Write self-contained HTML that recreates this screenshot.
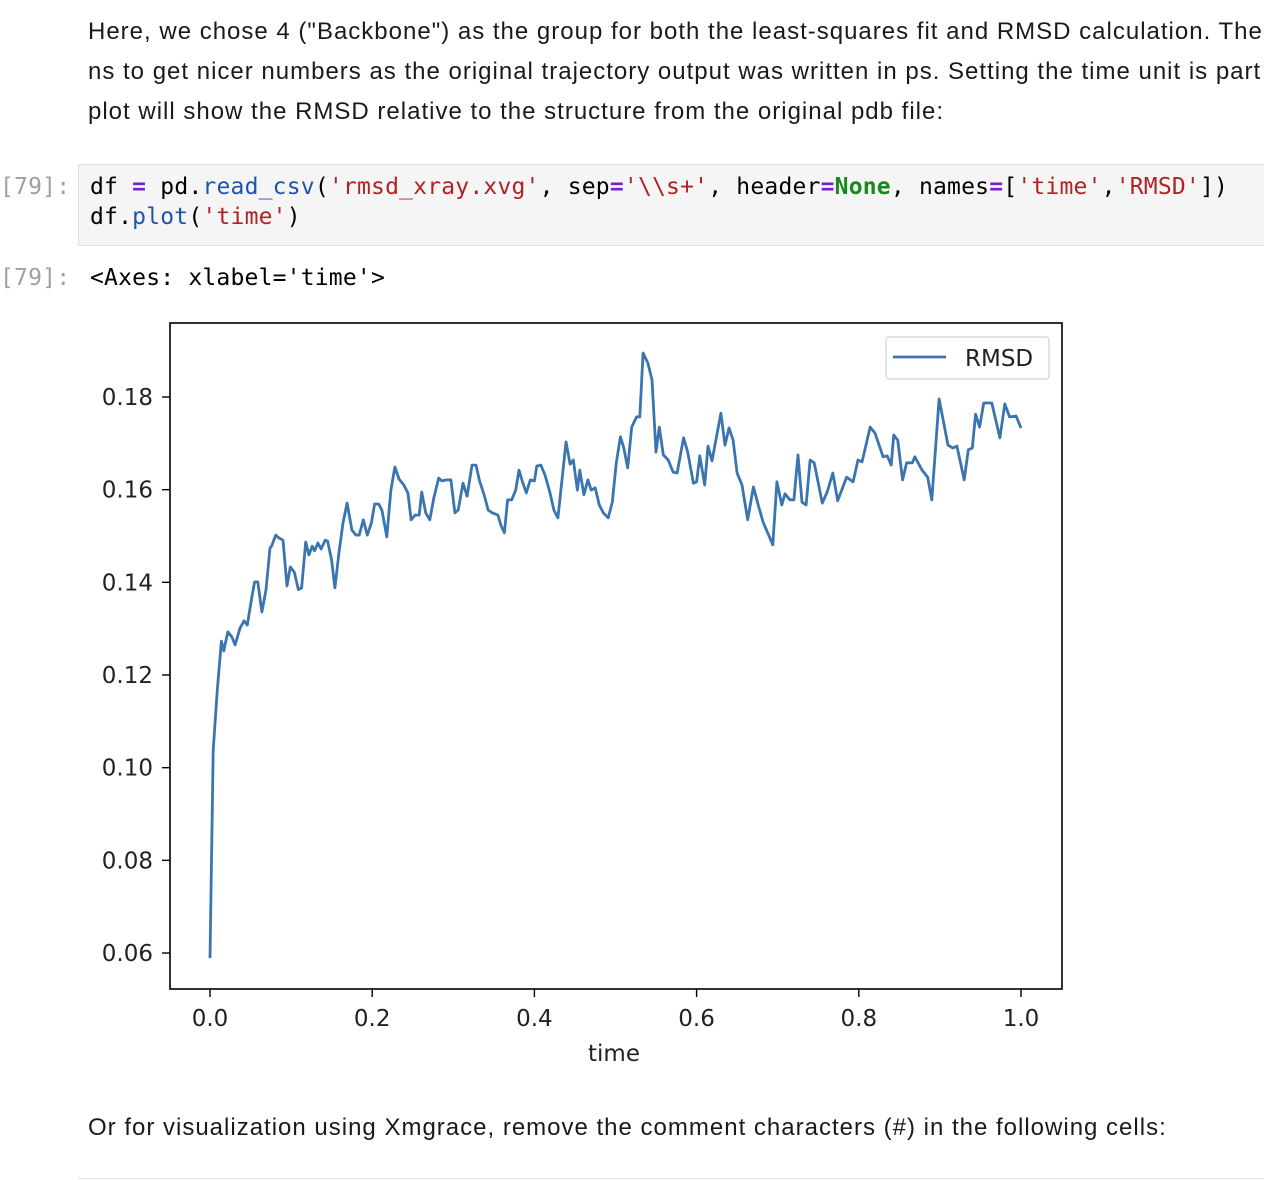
<!DOCTYPE html>
<html><head><meta charset="utf-8">
<style>
body{margin:0;width:1264px;height:1180px;overflow:hidden;background:#fff;position:relative;font-family:"Liberation Sans",sans-serif;}
.p{position:absolute;left:88px;font-size:24px;letter-spacing:1px;color:#1a1a1a;white-space:nowrap;}
.mono{font-family:"DejaVu Sans Mono","Liberation Mono",monospace;font-size:23px;white-space:pre;position:absolute;letter-spacing:0.2px;}
.pr{color:#a0a0a0;left:0;}
.kw{color:#7a22c4;font-weight:bold}.fn{color:#1f55a8}.st{color:#b22222}.nb{color:#198a19;font-weight:bold}
</style></head><body>
<div class="p" style="top:18px">Here, we chose 4 ("Backbone") as the group for both the least-squares fit and RMSD calculation. The</div>
<div class="p" style="top:58px">ns to get nicer numbers as the original trajectory output was written in ps. Setting the time unit is part</div>
<div class="p" style="top:98px">plot will show the RMSD relative to the structure from the original pdb file:</div>
<div style="position:absolute;left:78px;top:164px;width:1190px;height:80px;background:#f5f5f5;border:1px solid #e0e0e0;"></div>
<div class="mono pr" style="top:174px">[79]:</div>
<div class="mono" style="left:90px;top:174px">df <span class="kw">=</span> pd.<span class="fn">read_csv</span>(<span class="st">'rmsd_xray.xvg'</span>, sep<span class="kw">=</span><span class="st">'\\s+'</span>, header<span class="kw">=</span><span class="nb">None</span>, names<span class="kw">=</span>[<span class="st">'time'</span>,<span class="st">'RMSD'</span>])</div>
<div class="mono" style="left:90px;top:204px">df.<span class="fn">plot</span>(<span class="st">'time'</span>)</div>
<div class="mono pr" style="top:265px">[79]:</div>
<div class="mono" style="left:90px;top:265px">&lt;Axes: xlabel='time'&gt;</div>
<svg id="chart" width="1264" height="1180" style="position:absolute;left:0;top:0" font-family="DejaVu Sans, sans-serif"></svg>
<div class="p" style="top:1114px">Or for visualization using Xmgrace, remove the comment characters (#) in the following cells:</div>
<div style="position:absolute;left:78px;top:1178px;width:1190px;height:1px;background:#e0e0e0"></div>
<script>
const times=[0.000,0.004,0.009,0.014,0.017,0.022,0.027,0.031,0.037,0.042,0.046,0.051,0.055,0.059,0.064,0.069,0.074,0.076,0.081,0.085,0.090,0.095,0.099,0.104,0.109,0.113,0.118,0.122,0.126,0.129,0.133,0.137,0.142,0.145,0.150,0.154,0.159,0.164,0.169,0.175,0.180,0.184,0.189,0.194,0.199,0.203,0.208,0.212,0.218,0.223,0.228,0.233,0.239,0.244,0.248,0.253,0.258,0.261,0.266,0.271,0.276,0.282,0.286,0.292,0.297,0.302,0.306,0.312,0.317,0.323,0.328,0.332,0.338,0.343,0.348,0.351,0.355,0.359,0.363,0.367,0.372,0.377,0.381,0.385,0.390,0.395,0.400,0.403,0.408,0.413,0.419,0.424,0.429,0.434,0.439,0.444,0.448,0.453,0.456,0.461,0.466,0.470,0.475,0.480,0.485,0.491,0.496,0.501,0.506,0.510,0.515,0.520,0.526,0.530,0.534,0.540,0.545,0.550,0.554,0.559,0.565,0.571,0.576,0.584,0.589,0.596,0.600,0.604,0.610,0.614,0.619,0.630,0.635,0.640,0.645,0.650,0.656,0.663,0.670,0.676,0.682,0.694,0.699,0.705,0.709,0.715,0.720,0.725,0.730,0.735,0.740,0.745,0.755,0.761,0.768,0.774,0.785,0.793,0.799,0.804,0.814,0.820,0.830,0.835,0.840,0.843,0.848,0.854,0.859,0.866,0.869,0.878,0.885,0.890,0.899,0.910,0.916,0.921,0.930,0.935,0.940,0.944,0.949,0.954,0.964,0.974,0.980,0.986,0.994,1.000];
const rmsd=[0.0589,0.1038,0.1168,0.1273,0.1252,0.1293,0.1282,0.1265,0.1301,0.1317,0.1308,0.1362,0.1401,0.1401,0.1336,0.1384,0.1474,0.1478,0.1502,0.1496,0.1491,0.1392,0.1433,0.1422,0.1384,0.1388,0.1487,0.1459,0.1478,0.1468,0.1485,0.1472,0.1491,0.1489,0.1448,0.1388,0.1463,0.1528,0.1571,0.1513,0.1502,0.1502,0.1535,0.1502,0.1528,0.1569,0.1569,0.1556,0.1498,0.1599,0.1649,0.1623,0.1610,0.1593,0.1535,0.1545,0.1545,0.1595,0.1550,0.1535,0.1582,0.1625,0.1619,0.1621,0.1621,0.1550,0.1556,0.1614,0.1586,0.1653,0.1653,0.1621,0.1589,0.1556,0.1550,0.1548,0.1545,0.1522,0.1507,0.1578,0.1578,0.1599,0.1642,0.1619,0.1593,0.1621,0.1619,0.1651,0.1653,0.1632,0.1595,0.1556,0.1539,0.1621,0.1703,0.1655,0.1664,0.1599,0.1642,0.1589,0.1621,0.1599,0.1604,0.1567,0.1550,0.1539,0.1573,0.1658,0.1714,0.1692,0.1647,0.1735,0.1757,0.1757,0.1895,0.1873,0.1837,0.1681,0.1735,0.1675,0.1664,0.1638,0.1636,0.1712,0.1681,0.1614,0.1617,0.1673,0.1610,0.1694,0.1662,0.1765,0.1696,0.1733,0.1707,0.1636,0.1610,0.1535,0.1606,0.1567,0.1530,0.1481,0.1617,0.1567,0.1591,0.1578,0.1578,0.1675,0.1573,0.1567,0.1664,0.1658,0.1571,0.1595,0.1636,0.1576,0.1627,0.1617,0.1664,0.1660,0.1735,0.1722,0.1671,0.1673,0.1653,0.1718,0.1707,0.1621,0.1658,0.1658,0.1671,0.1642,0.1627,0.1578,0.1796,0.1696,0.1690,0.1694,0.1621,0.1686,0.1690,0.1763,0.1735,0.1787,0.1787,0.1712,0.1785,0.1757,0.1759,0.1733];
const xTicks=[0,0.2,0.4,0.6,0.8,1.0];
const xTickLabels=["0.0","0.2","0.4","0.6","0.8","1.0"];
const yTicks=[0.06,0.08,0.10,0.12,0.14,0.16,0.18];
const yTickLabels=["0.06","0.08","0.10","0.12","0.14","0.16","0.18"];
const NS="http://www.w3.org/2000/svg";
const svg=document.getElementById('chart');
const X=t=>210+t*811;
const Y=v=>953-(v-0.06)*(556/0.12);
function mk(tag,attrs,parent){const e=document.createElementNS(NS,tag);for(const k in attrs)e.setAttribute(k,attrs[k]);(parent||svg).appendChild(e);return e;}
const frame=mk('rect',{x:170,y:323,width:892,height:666,fill:'none',stroke:'#000','stroke-width':1.6});


xTicks.forEach((t,i)=>{
  const l=mk('line',{x1:X(t),x2:X(t),y1:989,y2:997,stroke:'#000','stroke-width':1.4});
  
  
  const tx=mk('text',{x:X(t),y:1026,'text-anchor':'middle','font-size':23,fill:'#222'});
  tx.textContent=xTickLabels[i];
  
  
});
yTicks.forEach((v,i)=>{
  const l=mk('line',{x1:162,x2:170,y1:Y(v),y2:Y(v),stroke:'#000','stroke-width':1.4});
  
  
  const tx=mk('text',{x:153,y:Y(v)+8,'text-anchor':'end','font-size':23,fill:'#222'});
  tx.textContent=yTickLabels[i];
  
  
});
const xt=mk('text',{x:614,y:1061,'text-anchor':'middle','font-size':23,fill:'#222'});
xt.textContent='time';


const pts=times.map((t,i)=>X(t).toFixed(1)+','+Y(rmsd[i]).toFixed(1)).join(' ');
const line=mk('polyline',{points:pts,fill:'none',stroke:'#3a75b0','stroke-width':2.8,'stroke-linejoin':'round'});


const lg=mk('rect',{x:886,y:337,width:163,height:42,rx:3,fill:'#fff',stroke:'#d0d0d0','stroke-width':1.2});


const ll=mk('line',{x1:893,x2:946,y1:357,y2:357,stroke:'#3a75b0','stroke-width':2.8});


const lt=mk('text',{x:965,y:366,'font-size':23,fill:'#222'});
lt.textContent='RMSD';


</script>
</body></html>
